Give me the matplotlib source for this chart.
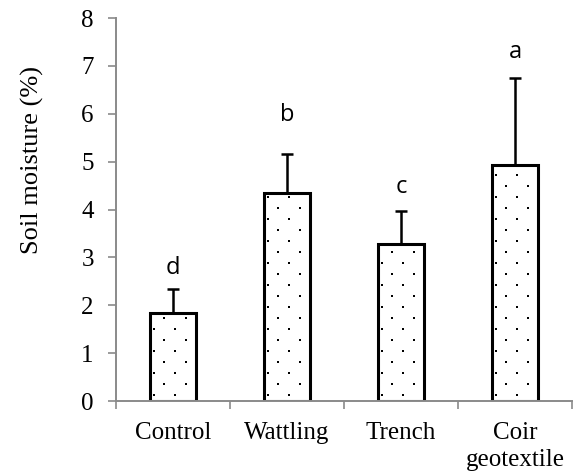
import matplotlib
matplotlib.use("Agg")
import matplotlib.pyplot as plt
import numpy as np

treatments = ["Control", "Wattling", "Trench", "Coir\ngeotextile"]
moisture = [1.83, 4.34, 3.27, 4.93]
err_up = [0.51, 0.81, 0.69, 1.81]
letters = ["d", "b", "c", "a"]
letter_y = [2.78, 5.97, 4.47, 7.29]

axis_grey = "#8a8a8a"
plt.rcParams["font.family"] = ["Liberation Serif", "DejaVu Serif"]

fig = plt.figure(figsize=(5.74, 4.74), dpi=100)
ax = fig.add_axes([0.2021, 0.154, 0.7944, 0.808])

x = np.arange(len(treatments))
width = 0.4
bars = ax.bar(x, moisture, width, color="white", edgecolor="black",
              linewidth=2.2, zorder=2)
ax.errorbar(x, moisture, yerr=[np.zeros(len(x)), err_up], fmt="none",
            ecolor="black", elinewidth=1.8, capsize=4.5, capthick=1.8, zorder=3)

# sparse staggered dot fill inside each bar
for b in bars:
    x0, w, h = b.get_x(), b.get_width(), b.get_height()
    xs, ys = [], []
    row = 0
    yy = 0.12
    while yy < h:
        shift = 0.03 if row % 2 == 0 else 0.125
        xx = x0 + shift
        while xx < x0 + w - 0.01:
            xs.append(xx)
            ys.append(yy)
            xx += 0.19
        yy += 0.23
        row += 1
    dots = ax.scatter(xs, ys, s=3, color="black", marker="s", linewidths=0, zorder=2.5)
    dots.set_clip_path(b)

for xi, lab, ly in zip(x, letters, letter_y):
    ax.text(xi, ly, lab, ha="center", va="center", fontsize=17,
            family=["Open Sans", "DejaVu Sans"])

ax.set_xlim(-0.5, 3.5)
ax.set_ylim(0, 8)
ax.set_yticks(range(9))
ax.set_xticks(x)
ax.set_xticklabels(treatments, fontsize=18, linespacing=1.3)
ax.set_xticks(np.arange(-0.5, 4.0, 1.0), minor=True)
ax.tick_params(axis="x", which="major", length=0, pad=15)
ax.tick_params(axis="x", which="minor", length=6, width=1.2, color=axis_grey)
ax.tick_params(axis="y", labelsize=18, length=6, width=1.2, color=axis_grey, pad=10)
ax.set_ylabel("Soil moisture (%)", fontsize=19)
ax.yaxis.set_label_coords(-0.157, 0.63)

for side in ["top", "right"]:
    ax.spines[side].set_visible(False)
for side in ["left", "bottom"]:
    ax.spines[side].set_color(axis_grey)
    ax.spines[side].set_linewidth(1.4)

plt.savefig("out.png", dpi=100)
